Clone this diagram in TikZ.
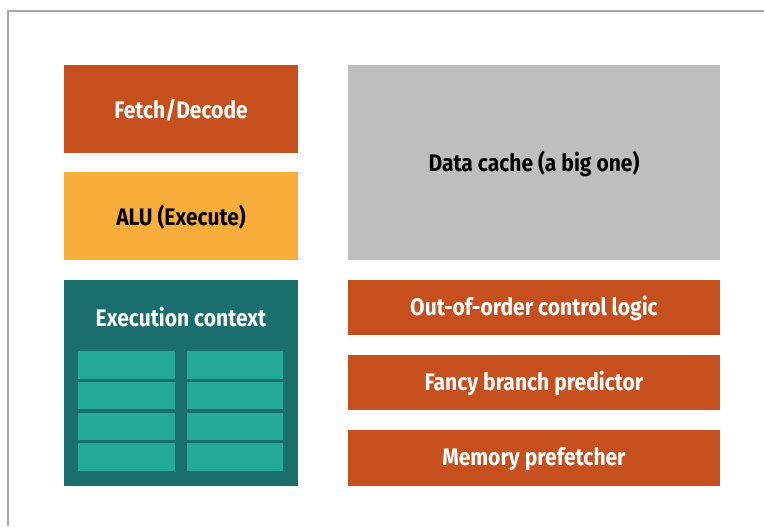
\documentclass[tikz,border=0pt]{standalone}
\usepackage{fontspec}
\setmainfont{Fira Sans}[FakeStretch=0.88]
\definecolor{unitorange}{HTML}{C6501D}
\definecolor{unityellow}{HTML}{F9AE3B}
\definecolor{ctxdark}{HTML}{1B6E6E}
\definecolor{ctxlight}{HTML}{24A898}
\definecolor{cachegray}{HTML}{BDBEC0}
\definecolor{framegray}{HTML}{A8A8A8}
\tikzset{
  label text/.style={font=\fontsize{17}{20}\selectfont\bfseries, text=white, yshift=-1pt},
}

\begin{document}
\begin{tikzpicture}[x=1cm, y=-1cm]
  \useasboundingbox (0,0) rectangle (19.1,13.15);
  \draw [framegray, line width=1pt] (0.2,13.15) -- (0.2,0.275) -- (19.1,0.275);
  \fill [unitorange] (1.6,1.625) rectangle (7.45,3.825) node[pos=.5, label text] (fetch) {Fetch/Decode};
  \fill [unityellow] (1.6,4.3) rectangle (7.45,6.5) node[pos=.5, label text, text=black] (alu) {ALU (Execute)};
  \fill [ctxdark] (1.6,7.0) rectangle (7.45,12.15);
  \node [label text] (ctx) at (4.525,7.9) {Execution context};
  \foreach \row in {0,...,3} {
    \fill [ctxlight] (1.95,8.775+0.77*\row) rectangle (4.375,9.465+0.77*\row);
    \fill [ctxlight] (4.675,8.775+0.77*\row) rectangle (7.075,9.465+0.77*\row);
  }
  \fill [cachegray] (8.7,1.625) rectangle (18.0,6.5) node[pos=.5, label text, text=black] (cache) {Data cache (a big one)};
  \fill [unitorange] (8.7,7.0) rectangle (18.0,8.375) node[pos=.5, label text] (ooo) {Out-of-order control logic};
  \fill [unitorange] (8.7,8.875) rectangle (18.0,10.25) node[pos=.5, label text] (branch) {Fancy branch predictor};
  \fill [unitorange] (8.7,10.75) rectangle (18.0,12.15) node[pos=.5, label text] (prefetch) {Memory prefetcher};
\end{tikzpicture}
\end{document}
